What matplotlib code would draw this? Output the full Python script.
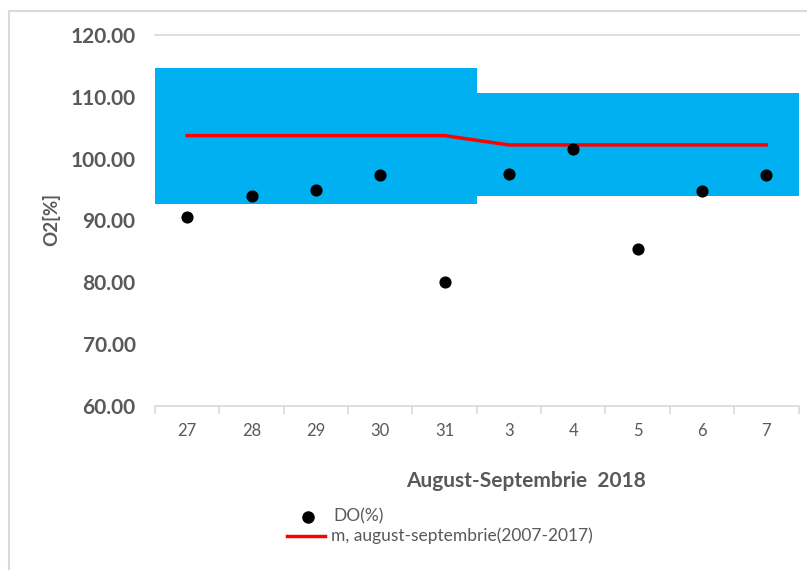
import matplotlib
matplotlib.use('Agg')
import matplotlib.pyplot as plt
from matplotlib.lines import Line2D
import numpy as np

# zilele (august-septembrie 2018)
zile = ['27', '28', '29', '30', '31', '3', '4', '5', '6', '7']
# DO(%) masurat
do_procent = [90.6, 93.9, 94.9, 97.3, 80.1, 97.5, 101.5, 85.4, 94.8, 97.3]
# media multianuala 2007-2017
medie = [103.7, 103.7, 103.7, 103.7, 103.7, 102.2, 102.2, 102.2, 102.2, 102.2]
# limitele benzii (min / max)
banda_min = [92.6, 92.6, 92.6, 92.6, 92.6, 94.0, 94.0, 94.0, 94.0, 94.0]
banda_max = [114.7, 114.7, 114.7, 114.7, 114.7, 110.6, 110.6, 110.6, 110.6, 110.6]

plt.rcParams['font.family'] = ['Lato', 'DejaVu Sans']
gri_text = '#595959'
gri_linie = '#d9d9d9'

fig = plt.figure(figsize=(8.07, 5.70), dpi=100)
ax = fig.add_axes([155 / 807, 1 - 406.3 / 570, (798.5 - 155) / 807, (406.3 - 34.7) / 570])

x = np.arange(len(zile))
inaltime = np.array(banda_max) - np.array(banda_min)
ax.bar(x, inaltime, bottom=banda_min, width=1.0, color='#00b0f0', linewidth=0, zorder=1)
ax.plot(x, medie, color='#ff0000', lw=2.5, zorder=2)
ax.scatter(x, do_procent, s=60, color='black', zorder=3)

ax.set_xlim(-0.5, len(zile) - 0.5)
ax.set_ylim(60, 120)
ax.set_yticks(np.arange(60, 121, 10))
ax.set_yticklabels(['%.2f' % v for v in np.arange(60, 121, 10)],
                   fontsize=15, fontweight='bold', color=gri_text)
ax.tick_params(axis='y', length=0, pad=14)

ax.set_xticks(x)
ax.set_xticklabels(zile, fontsize=12, color=gri_text)
ax.set_xticks(np.arange(-0.5, len(zile), 1.0), minor=True)
ax.tick_params(axis='x', which='major', length=0, pad=12)
ax.tick_params(axis='x', which='minor', length=6, color=gri_linie, width=1.2)

for s in ['left', 'right']:
    ax.spines[s].set_visible(False)
ax.spines['top'].set_color(gri_linie)
ax.spines['bottom'].set_color(gri_linie)
ax.spines['top'].set_linewidth(1.2)
ax.spines['bottom'].set_linewidth(1.2)

fig.text(51 / 807, 1 - 220 / 570, 'O2[%]', rotation=90, ha='center', va='center',
         fontsize=13.5, fontweight='bold', color=gri_text)
fig.text(526 / 807, 1 - 481 / 570, 'August-Septembrie  2018', ha='center', va='center',
         fontsize=15, fontweight='bold', color=gri_text)

# legenda
fig.add_artist(Line2D([307.7 / 807], [1 - 516.5 / 570], marker='o', color='black',
                      markersize=8, linestyle='none'))
fig.text(333 / 807, 1 - 516 / 570, 'DO(%)', ha='left', va='center', fontsize=12.5, color=gri_text)
fig.add_artist(Line2D([287 / 807, 325 / 807], [1 - 536 / 570, 1 - 536 / 570],
                      color='#ff0000', lw=2.5))
fig.text(331 / 807, 1 - 536 / 570, 'm, august-septembrie(2007-2017)', ha='left', va='center',
         fontsize=12.5, color=gri_text)

# chenarul graficului
fig.add_artist(Line2D([9 / 807, 9 / 807, 1.0], [0.0, 1 - 11 / 570, 1 - 11 / 570],
                      color=gri_linie, lw=1.5))

fig.savefig('out.png', dpi=100)
